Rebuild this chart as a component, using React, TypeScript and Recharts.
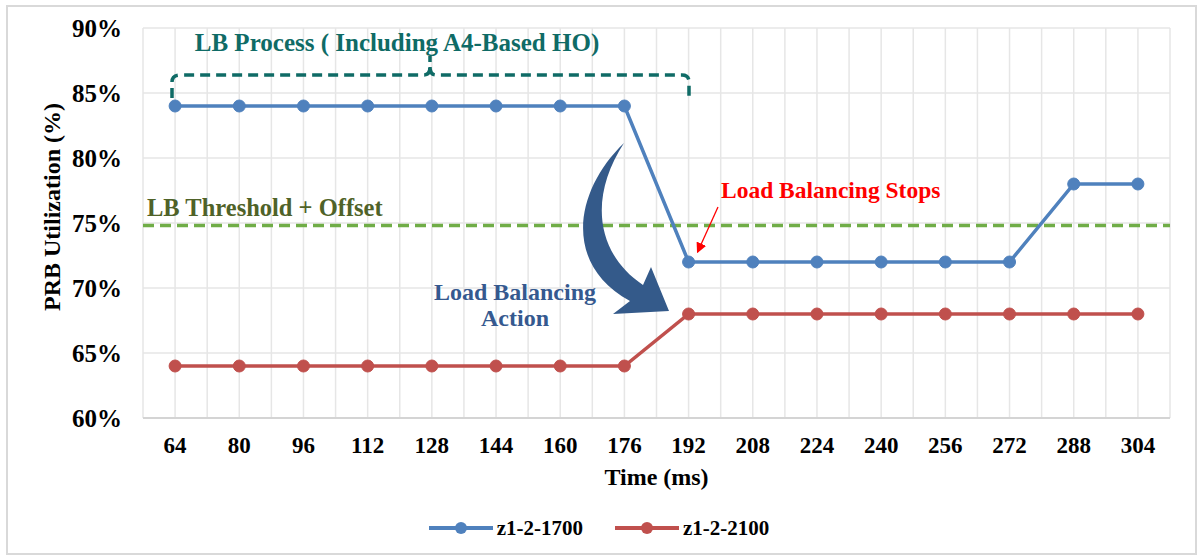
import React from "react";
import {
  LineChart,
  Line,
  XAxis,
  YAxis,
  CartesianGrid,
  ReferenceLine,
  Legend,
} from "recharts";

const TIME = [64, 80, 96, 112, 128, 144, 160, 176, 192, 208, 224, 240, 256, 272, 288, 304];
const Z1_2_1700 = [84, 84, 84, 84, 84, 84, 84, 84, 72, 72, 72, 72, 72, 72, 78, 78];
const Z1_2_2100 = [64, 64, 64, 64, 64, 64, 64, 64, 68, 68, 68, 68, 68, 68, 68, 68];
// grid every half step, labels only on the sample times
const GRID_X = [
  56, 64, 72, 80, 88, 96, 104, 112, 120, 128, 136, 144, 152, 160, 168, 176, 184,
  192, 200, 208, 216, 224, 232, 240, 248, 256, 264, 272, 280, 288, 296, 304, 312,
];
const Y_TICKS = [60, 65, 70, 75, 80, 85, 90];
const THRESHOLD = 74.8;

const SERIES = [
  { key: "z1-2-1700", values: Z1_2_1700, color: "#4f81bd" },
  { key: "z1-2-2100", values: Z1_2_2100, color: "#c0504d" },
];

const W = 1198;
const H = 555;
const FONT = "'Liberation Serif', 'Times New Roman', serif";

// plot box (must match margins / axis sizes below)
const PLOT = { left: 143, right: 1170, top: 28, bottom: 418 };
const xPx = (v: number) => PLOT.left + ((v - 56) / 256) * (PLOT.right - PLOT.left);
const yPx = (v: number) => PLOT.top + ((90 - v) / 30) * (PLOT.bottom - PLOT.top);

const data = TIME.map((t, i) => {
  const row: any = { t };
  SERIES.forEach((s) => (row[s.key] = s.values[i]));
  return row;
});

const LegendBox = () => (
  <div
    style={{
      height: 40,
      width: W,
      display: "flex",
      justifyContent: "center",
      alignItems: "center",
      gap: 32,
      fontFamily: FONT,
      fontWeight: 700,
      fontSize: 21,
      color: "#000",
    }}
  >
    {SERIES.map((s) => (
      <div key={s.key} style={{ display: "flex", alignItems: "center", gap: 4 }}>
        <svg width={64} height={14}>
          <line x1={0} y1={7} x2={64} y2={7} stroke={s.color} strokeWidth={4} />
          <circle cx={32} cy={7} r={6} fill={s.color} />
        </svg>
        <span>{s.key}</span>
      </div>
    ))}
  </div>
);

export default function App() {
  const redTipX = xPx(192) + 9;
  const redTipY = yPx(72) - 10;

  return (
    <div style={{ position: "absolute", left: 0, top: 0, width: W, height: H, background: "#fff" }}>
      <div
        style={{
          position: "absolute",
          left: 6,
          top: 5,
          width: 1187,
          height: 546,
          border: "2px solid #d9d9d9",
        }}
      />
      <LineChart
        width={W}
        height={H}
        data={data}
        margin={{ top: 28, right: 28, left: 0, bottom: 7 }}
        style={{ position: "absolute", left: 0, top: 0 }}
      >
        <CartesianGrid stroke="#e6e6e6" strokeWidth={1.5} />
        <XAxis
          dataKey="t"
          type="number"
          domain={[56, 312]}
          ticks={GRID_X}
          interval={0}
          height={90}
          tickLine={false}
          axisLine={{ stroke: "#d4d4d4", strokeWidth: 2 }}
          tickMargin={13}
          tickFormatter={(v: number) => (TIME.includes(v) ? String(v) : "")}
          tick={{ fill: "#000", fontSize: 23, fontWeight: 700, fontFamily: FONT }}
          label={{
            value: "Time (ms)",
            position: "insideBottom",
            offset: 23,
            fill: "#000",
            fontSize: 24,
            fontWeight: 700,
            fontFamily: FONT,
          }}
        />
        <YAxis
          type="number"
          domain={[60, 90]}
          ticks={Y_TICKS}
          width={143}
          axisLine={false}
          tickLine={false}
          tickMargin={15}
          tickFormatter={(v: number) => `${v}%`}
          tick={{ fill: "#000", fontSize: 25, fontWeight: 700, fontFamily: FONT }}
        />
        <ReferenceLine
          y={THRESHOLD}
          stroke="#70ad47"
          strokeWidth={3.5}
          strokeDasharray="11 6"
        />
        {SERIES.map((s) => (
          <Line
            key={s.key}
            dataKey={s.key}
            name={s.key}
            stroke={s.color}
            strokeWidth={3.5}
            dot={{ r: 6, fill: s.color, stroke: s.color, strokeWidth: 1 }}
            activeDot={false}
            isAnimationActive={false}
          />
        ))}
        <Legend verticalAlign="bottom" content={() => <LegendBox />} />
      </LineChart>

      <svg
        width={W}
        height={H}
        style={{ position: "absolute", left: 0, top: 0, pointerEvents: "none", fontFamily: FONT }}
      >
        <defs>
          <marker id="redHead" markerWidth="8" markerHeight="8" refX="7" refY="4" orient="auto">
            <path d="M0,0 L8,4 L0,8 Z" fill="#ff0000" />
          </marker>
        </defs>

        {/* y axis title */}
        <text
          x={0}
          y={0}
          transform="translate(52,207) rotate(-90)"
          textAnchor="middle"
          dominantBaseline="central"
          fontSize={24}
          fontWeight={700}
          fill="#000"
        >
          PRB Utilization (%)
        </text>

        {/* LB process bracket */}
        <text x={397} y={51} textAnchor="middle" fontSize={25} fontWeight={700} fill="#0f6b66">
          LB Process ( Including A4-Based HO)
        </text>
        <path
          d="M172,98 L172,82 Q172,75 180,75 L424,75 Q430,75 430,67 L430,56 M430,67 Q430,75 436,75 L682,75 Q689,75 689,82 L689,98"
          fill="none"
          stroke="#0f6b66"
          strokeWidth={3.5}
          strokeDasharray="10 6"
        />

        {/* threshold label */}
        <text x={147} y={216} fontSize={24.5} fontWeight={700} fill="#4f6228">
          LB Threshold + Offset
        </text>

        {/* load balancing stops */}
        <text x={721} y={198} fontSize={23.5} fontWeight={700} fill="#ff0000">
          Load Balancing Stops
        </text>
        <line
          x1={718}
          y1={207}
          x2={redTipX}
          y2={redTipY}
          stroke="#ff0000"
          strokeWidth={1.3}
          markerEnd="url(#redHead)"
        />

        {/* curved action arrow */}
        <path
          d="M624,143 C575,190 562,264 630,301 L613,314 L669,311 L651,267 L643,285 C594,252 590,195 624,143 Z"
          fill="#345a8a"
        />
        <text textAnchor="middle" fontSize={24} fontWeight={700} fill="#35598f">
          <tspan x={515} y={300}>Load Balancing</tspan>
          <tspan x={515} y={326}>Action</tspan>
        </text>
      </svg>
    </div>
  );
}
